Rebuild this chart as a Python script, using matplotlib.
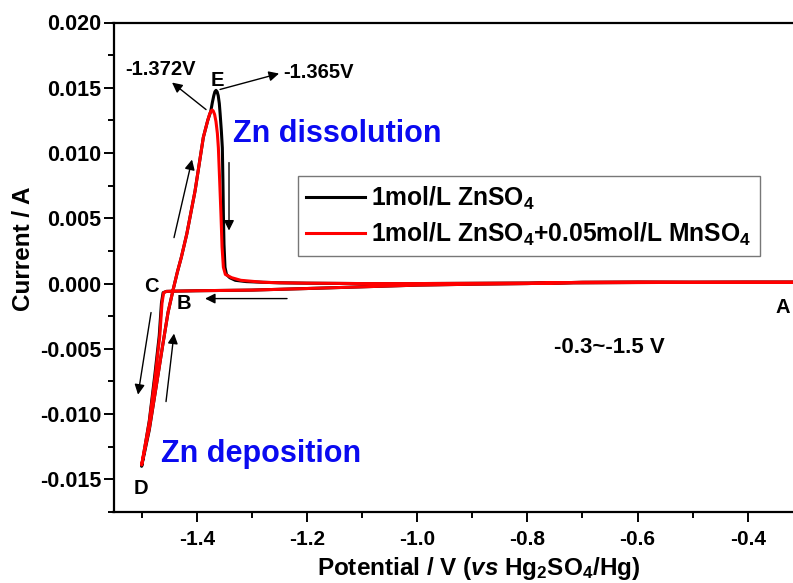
import matplotlib
matplotlib.use("Agg")
import matplotlib.pyplot as plt
from matplotlib.ticker import FixedLocator, FixedFormatter

plt.rcParams['font.family'] = ['Liberation Sans', 'DejaVu Sans']
plt.rcParams['font.weight'] = 'bold'
plt.rcParams['axes.unicode_minus'] = False
plt.rcParams['mathtext.fontset'] = 'custom'
plt.rcParams['mathtext.rm'] = 'Liberation Sans:bold'
plt.rcParams['mathtext.bf'] = 'Liberation Sans:bold'
plt.rcParams['mathtext.it'] = 'Liberation Sans:italic:bold'

# ---- data: cyclic voltammograms (potential in V, current in A) ----
# 1 mol/L ZnSO4: cathodic sweep A -> C -> D, then anodic sweep D -> B -> E -> A
znso4_potential = [
    -0.30, -0.40, -0.50, -0.60, -0.70, -0.80, -0.90, -1.00, -1.10, -1.20,
    -1.30, -1.40, -1.440, -1.455, -1.461, -1.464, -1.468, -1.476, -1.486,
    -1.500,
    -1.486, -1.474, -1.462, -1.452, -1.4424, -1.435, -1.428, -1.418, -1.403,
    -1.388, -1.380, -1.3745, -1.3715, -1.369, -1.367, -1.365, -1.363,
    -1.361, -1.359, -1.3575, -1.3553, -1.3535, -1.3525, -1.3516, -1.3505,
    -1.3487, -1.346, -1.340, -1.330, -1.310, -1.280, -1.250, -1.200, -1.100,
    -1.000, -0.800, -0.600, -0.400, -0.300,
]
znso4_current = [
    0.00010, 0.00010, 0.00010, 0.00012, 0.00010, 0.00000, -0.00005, -0.00012,
    -0.00025, -0.00038, -0.00050, -0.00055, -0.00058, -0.00060, -0.00070,
    -0.00150, -0.00400, -0.00700, -0.01050, -0.01400,
    -0.01120, -0.00800, -0.00480, -0.00220, -0.00040, 0.00090, 0.00200,
    0.00380, 0.00710, 0.01120, 0.01250, 0.01320, 0.01390, 0.01440, 0.01470,
    0.01480, 0.01470, 0.01440, 0.01380, 0.01300, 0.01170, 0.01040, 0.00800,
    0.00530, 0.00300, 0.00125, 0.00070, 0.00045, 0.00025, 0.00015, 0.00010,
    0.00006, 0.00003, 0.00000, 0.00000, 0.00004, 0.00008, 0.00010, 0.00010,
]

# 1 mol/L ZnSO4 + 0.05 mol/L MnSO4
mnso4_potential = [
    -0.30, -0.40, -0.50, -0.60, -0.70, -0.80, -0.90, -1.00, -1.10, -1.20,
    -1.30, -1.40, -1.440, -1.455, -1.460, -1.463, -1.467, -1.475, -1.486,
    -1.500,
    -1.486, -1.474, -1.462, -1.452, -1.4424, -1.435, -1.428, -1.418, -1.403,
    -1.388, -1.380, -1.3765, -1.374, -1.372, -1.370, -1.3675, -1.365,
    -1.3625, -1.3607, -1.358, -1.356, -1.354, -1.3516, -1.348, -1.3366,
    -1.320, -1.280, -1.250, -1.200, -1.100, -1.000, -0.800, -0.600, -0.400,
    -0.300,
]
mnso4_current = [
    0.00010, 0.00010, 0.00010, 0.00012, 0.00010, 0.00000, -0.00005, -0.00012,
    -0.00025, -0.00038, -0.00050, -0.00055, -0.00058, -0.00060, -0.00070,
    -0.00150, -0.00400, -0.00700, -0.01060, -0.01390,
    -0.01110, -0.00800, -0.00480, -0.00220, -0.00040, 0.00090, 0.00200,
    0.00380, 0.00710, 0.01120, 0.01250, 0.01300, 0.01322, 0.01330, 0.01322,
    0.01295, 0.01240, 0.01150, 0.01040, 0.00750, 0.00530, 0.00280, 0.00125,
    0.00070, 0.00045, 0.00025, 0.00010, 0.00006, 0.00003, 0.00000, 0.00000,
    0.00004, 0.00008, 0.00010, 0.00010,
]

series_labels = [
    r'1mol/L ZnSO$_4$',
    r'1mol/L ZnSO$_4$+0.05mol/L MnSO$_4$',
]
series_colors = ['black', '#ff0000']

x_major = [-1.4, -1.2, -1.0, -0.8, -0.6, -0.4]
x_major_labels = ['-1.4', '-1.2', '-1.0', '-0.8', '-0.6', '-0.4']
x_minor = [-1.5, -1.3, -1.1, -0.9, -0.7, -0.5]
y_major = [-0.015, -0.010, -0.005, 0.000, 0.005, 0.010, 0.015, 0.020]
y_major_labels = ['-0.015', '-0.010', '-0.005', '0.000', '0.005', '0.010',
                  '0.015', '0.020']
y_minor = [-0.0175, -0.0125, -0.0075, -0.0025, 0.0025, 0.0075, 0.0125, 0.0175]

# ---- figure ----
W, H = 793, 583
fig = plt.figure(figsize=(W / 100, H / 100), dpi=100)
ax = fig.add_axes([113.5 / W, 71 / H, 1 - 113.5 / W, (512 - 22.5) / H])

ax.plot(znso4_potential, znso4_current, color=series_colors[0], lw=2.2,
        label=series_labels[0], zorder=3, solid_joinstyle='round')
ax.plot(mnso4_potential, mnso4_current, color=series_colors[1], lw=2.2,
        label=series_labels[1], zorder=4, solid_joinstyle='round')

ax.set_xlim(-1.551, -0.318)
ax.set_ylim(-0.0175, 0.020)

ax.spines['right'].set_visible(False)
for s in ['left', 'top', 'bottom']:
    ax.spines[s].set_linewidth(1.6)

ax.xaxis.set_major_locator(FixedLocator(x_major))
ax.xaxis.set_major_formatter(FixedFormatter(x_major_labels))
ax.xaxis.set_minor_locator(FixedLocator(x_minor))
ax.yaxis.set_major_locator(FixedLocator(y_major))
ax.yaxis.set_major_formatter(FixedFormatter(y_major_labels))
ax.yaxis.set_minor_locator(FixedLocator(y_minor))
ax.tick_params(which='major', direction='out', length=7, width=1.4)
ax.tick_params(which='minor', direction='out', length=4, width=1.4)
ax.tick_params(axis='x', which='major', pad=6, labelsize=15)
ax.tick_params(axis='y', which='major', pad=2, labelsize=15.5)
ax.tick_params(top=False, right=False, which='both')
for lab in ax.get_xticklabels() + ax.get_yticklabels():
    lab.set_fontweight('bold')

fig.text(24 / W, 1 - 248.5 / H, 'Current / A', rotation=90, ha='center',
         va='center', fontsize=17.5, fontweight='bold')
fig.text(479 / W, 1 - 568 / H, r'Potential / V ($vs$ Hg$_2$SO$_4$/Hg)',
         ha='center', va='center', fontsize=17.5, fontweight='bold')

# ---- annotations ----
txt = dict(fontsize=14.5, fontweight='bold', color='black')
ax.text(-1.4666, 0.0164, '-1.372V', ha='center', va='center', **txt)
ax.text(-1.2434, 0.0162, '-1.365V', ha='left', va='center', **txt)
ax.text(-1.3632, 0.01556, 'E', ha='center', va='center', **txt)
ax.text(-1.4829, -0.00023, 'C', ha='center', va='center', **txt)
ax.text(-1.4230, -0.00153, 'B', ha='center', va='center', **txt)
ax.text(-1.5011, -0.01571, 'D', ha='center', va='center', **txt)
ax.text(-0.3358, -0.00184, 'A', ha='center', va='center', **txt)
ax.text(-0.6515, -0.0049, '-0.3~-1.5 V', ha='center', va='center',
        fontsize=16, fontweight='bold')

ax.text(-1.3341, 0.01149, 'Zn dissolution', ha='left', va='center',
        fontsize=22, fontweight='bold', color='#0a0af0')
ax.text(-1.4648, -0.01303, 'Zn deposition', ha='left', va='center',
        fontsize=22, fontweight='bold', color='#0a0af0')

arrow_kw = dict(arrowstyle='-|>', color='black', lw=1.0, mutation_scale=15,
                shrinkA=0, shrinkB=0)
arrows = [
    ((-1.3831, 0.01333), (-1.4448, 0.0154)),
    ((-1.3577, 0.01487), (-1.2506, 0.01609)),
    ((-1.4412, 0.00352), (-1.4085, 0.0095)),
    ((-1.3414, 0.00927), (-1.3414, 0.00406)),
    ((-1.2361, -0.00115), (-1.3849, -0.00115)),
    ((-1.4829, -0.00222), (-1.5065, -0.00851)),
    ((-1.4557, -0.00904), (-1.4412, -0.00383)),
]
for tail, head in arrows:
    ax.annotate('', xy=head, xytext=tail, arrowprops=arrow_kw, zorder=5)

leg = ax.legend(loc='upper left', bbox_to_anchor=(297.7 / W, 1 - 176 / H),
                bbox_transform=fig.transFigure, fontsize=17.7, frameon=True,
                fancybox=False, edgecolor='#555555', handlelength=2.4,
                handletextpad=0.25, labelspacing=0.35, borderpad=0.35,
                borderaxespad=0)
leg.get_frame().set_linewidth(1.0)
for line in leg.get_lines():
    line.set_linewidth(2.2)
for t in leg.get_texts():
    t.set_fontweight('bold')

fig.savefig('out.png', dpi=100)
